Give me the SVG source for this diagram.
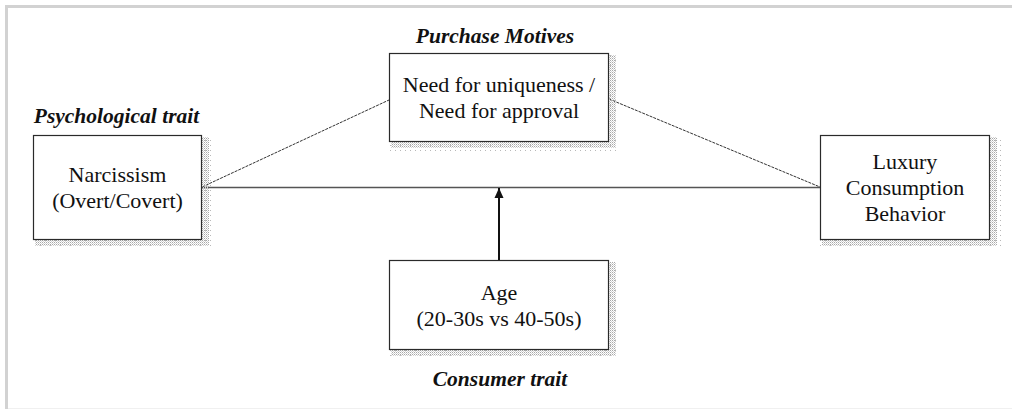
<svg xmlns="http://www.w3.org/2000/svg" width="1012" height="409" viewBox="0 0 1012 409">
<defs>
<pattern id="dense" width="2" height="2" patternUnits="userSpaceOnUse">
<rect x="0" y="0" width="1" height="1" fill="#a8a8a8"/>
<rect x="1" y="1" width="1" height="1" fill="#d4d4d4"/>
</pattern>
<pattern id="sparse" width="5" height="5" patternUnits="userSpaceOnUse">
<rect x="0" y="0" width="1" height="1" fill="#b8b8b8"/>
</pattern>
<marker id="arr" markerWidth="10" markerHeight="10" viewBox="0 0 10 10" refX="10" refY="5" orient="auto" markerUnits="userSpaceOnUse">
<path d="M0,0.5 L10,5 L0,9.5 z" fill="#111"/>
</marker>
<style>
.box{fill:#fff;stroke:#2a2a2a;stroke-width:1.2}
.dash{stroke:#333;stroke-width:1;stroke-dasharray:3,1;fill:none}
</style>
</defs>
<rect x="0" y="0" width="1012" height="409" fill="#fff"/>
<g id="frame">
<line x1="5" y1="6.5" x2="1012" y2="6.5" stroke="#d2d2d2" stroke-width="3"/>
<line x1="6.5" y1="5" x2="6.5" y2="409" stroke="#d2d2d2" stroke-width="3"/>
<line x1="8" y1="408.5" x2="1012" y2="408.5" stroke="#f0f0f0" stroke-width="1"/>
</g>
<g id="connectors">
<line class="dash" x1="202" y1="187" x2="389" y2="100"/>
<line class="dash" x1="609" y1="99" x2="820" y2="187"/>
<line x1="202" y1="187.5" x2="820" y2="187.5" stroke="#555" stroke-width="1.3"/>
<line x1="499" y1="260" x2="499" y2="188" stroke="#111" stroke-width="2" marker-end="url(#arr)"/>
</g>
<g id="narcissism" font-family="Liberation Serif" font-size="22" fill="#111" text-anchor="middle">
<rect x="33" y="137" width="180" height="113" fill="url(#sparse)"/>
<rect x="35" y="137" width="174" height="109" fill="url(#dense)"/>
<rect class="box" x="33.5" y="135.5" width="168" height="104"/>
<text x="117.5" y="182">Narcissism</text>
<text x="117.5" y="208">(Overt/Covert)</text>
</g>
<g id="psych-label" font-family="Liberation Serif" font-size="21.5" font-style="italic" font-weight="bold" fill="#111" text-anchor="middle"><text x="116.5" y="123">Psychological trait</text></g>
<g id="motives" font-family="Liberation Serif" font-size="22" fill="#111" text-anchor="middle">
<rect x="389" y="55" width="231" height="97" fill="url(#sparse)"/>
<rect x="391" y="55" width="225" height="93" fill="url(#dense)"/>
<rect class="box" x="389.5" y="53.5" width="219" height="88"/>
<text x="499" y="92">Need for uniqueness /</text>
<text x="499" y="118">Need for approval</text>
</g>
<g id="motives-label" font-family="Liberation Serif" font-size="21.5" font-style="italic" font-weight="bold" fill="#111" text-anchor="middle"><text x="495" y="43">Purchase Motives</text></g>
<g id="luxury" font-family="Liberation Serif" font-size="22" fill="#111" text-anchor="middle">
<rect x="820" y="137" width="181" height="113" fill="url(#sparse)"/>
<rect x="822" y="137" width="175" height="109" fill="url(#dense)"/>
<rect class="box" x="820.5" y="135.5" width="169" height="104"/>
<text x="905" y="169">Luxury</text>
<text x="905" y="195">Consumption</text>
<text x="905" y="221">Behavior</text>
</g>
<g id="age" font-family="Liberation Serif" font-size="22" fill="#111" text-anchor="middle">
<rect x="389" y="262" width="231" height="98" fill="url(#sparse)"/>
<rect x="391" y="262" width="225" height="94" fill="url(#dense)"/>
<rect class="box" x="389.5" y="260.5" width="219" height="89"/>
<text x="499" y="300">Age</text>
<text x="499" y="326">(20-30s vs 40-50s)</text>
</g>
<g id="consumer-label" font-family="Liberation Serif" font-size="21.5" font-style="italic" font-weight="bold" fill="#111" text-anchor="middle"><text x="500" y="386">Consumer trait</text></g>
</svg>
